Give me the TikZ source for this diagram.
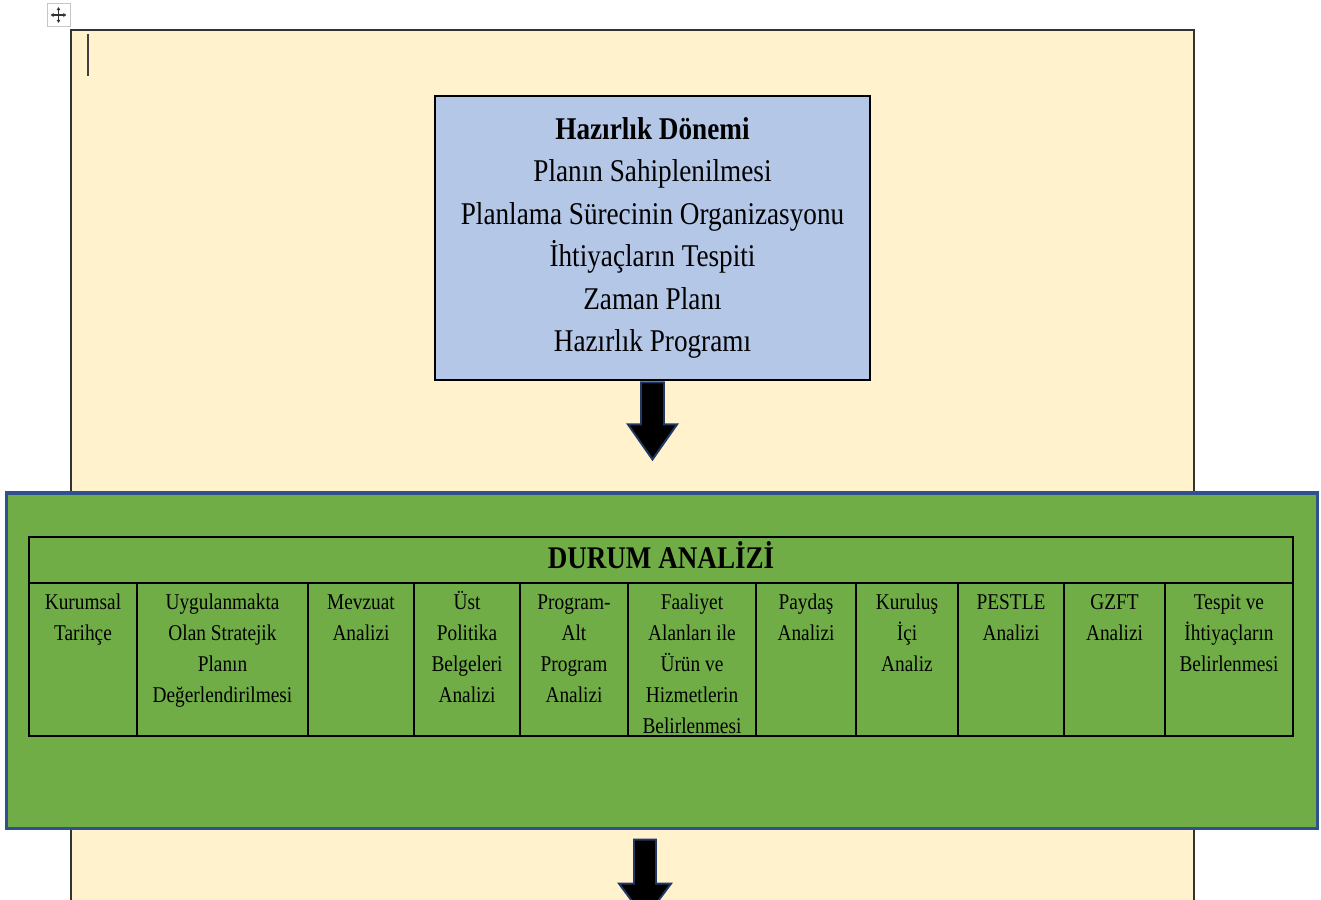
\documentclass[tikz,border=0pt]{standalone}
\usepackage{fontspec}
\setmainfont{Liberation Serif}[FakeStretch=0.86]
\usetikzlibrary{calc,positioning,arrows.meta}
\definecolor{beige}{HTML}{FFF2CC}
\definecolor{planblue}{HTML}{B4C7E7}
\definecolor{durumgreen}{HTML}{70AD47}
\definecolor{frameblue}{HTML}{2F528F}
\definecolor{arrownavy}{HTML}{1F3864}
\tikzset{
	planbox/.style={draw=black, line width=2pt, fill=planblue, align=center, inner sep=0,
		font=\fontsize{22.5}{30.2}\selectfont},
	durumbox/.style={draw=frameblue, line width=2.2pt, fill=durumgreen, inner sep=0},
	grid/.style={draw=black, line width=1.4pt},
	headtext/.style={anchor=base, inner sep=0, font=\fontsize{22.4}{26}\selectfont\bfseries},
	celltext/.style={anchor=north, align=center, inner sep=0, font=\fontsize{16}{22}\selectfont},
	blockarrow/.style={fill=black, draw=arrownavy, line width=1.4pt, line join=miter}
}

\begin{document}
\begin{tikzpicture}[x=0.025cm, y=-0.025cm]
\useasboundingbox (0,0) rectangle (1321,900);
\clip (0,0) rectangle (1321,900);
\fill[white] (0,0) rectangle (1321,900);
\filldraw[fill=beige, draw=black!80, line width=0.8pt] (71,30) rectangle (1194,920);
\draw[line width=1.2pt, black!75] (88,34) -- (88,76);
\node[draw=gray!45, fill=white, line width=0.6pt, minimum size=0.575cm, inner sep=0] (handle) at (58.5,15) {};
\draw[gray!40!black, line width=0.8pt, {Latex[length=2.2pt,width=3pt]}-{Latex[length=2.2pt,width=3pt]}]
	($(handle.center)+(-8,0)$) -- ($(handle.center)+(8,0)$);
\draw[gray!40!black, line width=0.8pt, {Latex[length=2.2pt,width=3pt]}-{Latex[length=2.2pt,width=3pt]}]
	($(handle.center)+(0,-8)$) -- ($(handle.center)+(0,8)$);

\node[planbox, minimum width=10.875cm, minimum height=7.1cm] (plan) at (652.5,238)
	{\textbf{Hazırlık Dönemi}\\Planın Sahiplenilmesi\\Planlama Sürecinin Organizasyonu\\İhtiyaçların Tespiti\\Zaman Planı\\Hazırlık Programı};
\filldraw[blockarrow] ($(plan.south)+(-11.5,1)$) -- ++(0,42) -- ++(-13,0) -- ($(plan.south)+(0,78)$)
	-- ($(plan.south)+(24.5,43)$) -- ++(-13,0) -- ($(plan.south)+(11.5,1)$) -- cycle;

\node[durumbox, minimum width=32.75cm, minimum height=8.375cm] (durum) at (662,660.5) {};
\draw[grid] (29,537) rectangle (1293,736);
\draw[grid] (29,583) -- (1293,583);
\foreach \x in {137,308,414,520,628,756,856,958,1064,1165}
	\draw[grid] (\x,583) -- (\x,736);
\node[headtext] (baslik) at (661,568) {DURUM ANALİZİ};
\node[celltext] (tarihce) at (83,588) {\strut Kurumsal\\Tarihçe};
\node[celltext] (stratejik) at (222.5,588) {\strut Uygulanmakta\\Olan Stratejik\\Planın\\Değerlendirilmesi};
\node[celltext] (mevzuat) at (361,588) {\strut Mevzuat\\Analizi};
\node[celltext] (politika) at (467,588) {\strut Üst\\Politika\\Belgeleri\\Analizi};
\node[celltext] (program) at (574,588) {\strut Program-\\Alt\\Program\\Analizi};
\node[celltext] (faaliyet) at (692,588) {\strut Faaliyet\\Alanları ile\\Ürün ve\\Hizmetlerin\\Belirlenmesi};
\node[celltext] (paydas) at (806,588) {\strut Paydaş\\Analizi};
\node[celltext] (kurulus) at (907,588) {\strut Kuruluş\\İçi\\Analiz};
\node[celltext] (pestle) at (1011,588) {\strut PESTLE\\Analizi};
\node[celltext] (gzft) at (1114.5,588) {\strut GZFT\\Analizi};
\node[celltext] (tespit) at (1229,588) {\strut Tespit ve\\İhtiyaçların\\Belirlenmesi};

\coordinate (sonraki) at ($(durum.south)+(-17,10)$);
\filldraw[blockarrow] ($(sonraki)+(-11,0)$) -- ++(0,44) -- ++(-15,0) -- ($(sonraki)+(0,79)$)
	-- ($(sonraki)+(26,44)$) -- ++(-15,0) -- ($(sonraki)+(11,0)$) -- cycle;
\end{tikzpicture}
\end{document}
